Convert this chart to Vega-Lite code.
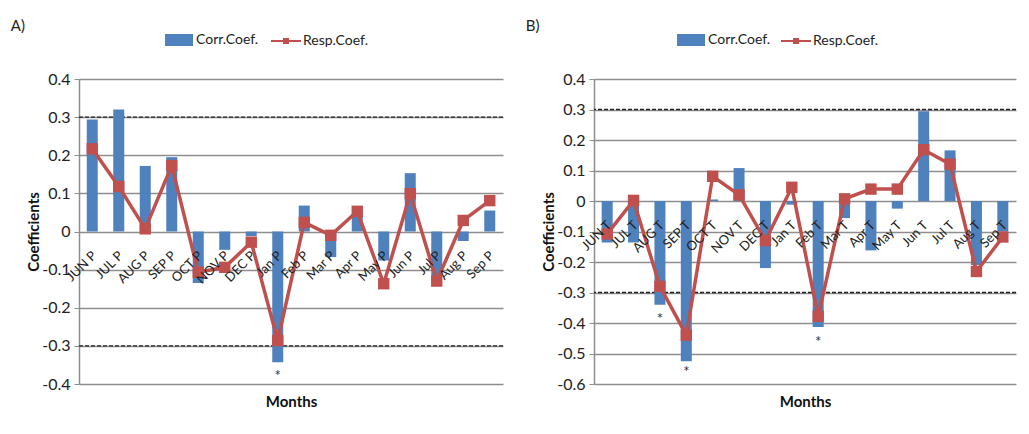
{
  "$schema": "https://vega.github.io/schema/vega-lite/v6.json",
  "background": "white",
  "padding": {"left": 10, "top": 19, "right": 3, "bottom": 5},
  "config": {
    "font": "Lato",
    "view": {"stroke": null},
    "axisY": {"tickCount": 12, "grid": true, "gridColor": "#8e8e8e", "gridWidth": 1.5, "domainColor": "#8e8e8e", "domainWidth": 1.5, "tickColor": "#8e8e8e", "tickSize": 5, "labelFontSize": 16, "labelColor": "#222", "labelPadding": 4, "titleFontSize": 15, "titleFontWeight": "bold", "titleColor": "#111", "titlePadding": 0},
    "axisX": {"labels": false, "ticks": false, "domain": false, "grid": false, "titleFontSize": 15, "titleFontWeight": "bold", "titleColor": "#111", "titlePadding": 10},
    "title": {"anchor": "start", "frame": "bounds", "fontSize": 15, "fontWeight": "normal", "color": "#222", "dx": -16, "offset": -8}
  },
  "datasets": {
    "A": [
      {"month": "JUN P", "corr": 0.294, "resp": 0.217},
      {"month": "JUL P", "corr": 0.32, "resp": 0.118},
      {"month": "AUG P", "corr": 0.172, "resp": 0.007},
      {"month": "SEP P", "corr": 0.195, "resp": 0.173},
      {"month": "OCT P", "corr": -0.135, "resp": -0.107},
      {"month": "NOV P", "corr": -0.048, "resp": -0.094},
      {"month": "DEC P", "corr": -0.012, "resp": -0.028},
      {"month": "Jan P", "corr": -0.343, "resp": -0.286},
      {"month": "Feb P", "corr": 0.068, "resp": 0.024},
      {"month": "Mar P", "corr": -0.067, "resp": -0.01},
      {"month": "Apr P", "corr": 0.045, "resp": 0.053},
      {"month": "May P", "corr": -0.076, "resp": -0.137},
      {"month": "Jun P", "corr": 0.153, "resp": 0.099},
      {"month": "Jul P", "corr": -0.12, "resp": -0.13},
      {"month": "Aug P", "corr": -0.025, "resp": 0.029},
      {"month": "Sep P", "corr": 0.055, "resp": 0.081}
    ],
    "B": [
      {"month": "JUN T", "corr": -0.136, "resp": -0.108},
      {"month": "JUL T", "corr": -0.136, "resp": 0.002},
      {"month": "AUG T", "corr": -0.34, "resp": -0.28},
      {"month": "SEP T", "corr": -0.525, "resp": -0.44},
      {"month": "OCT T", "corr": 0.005, "resp": 0.081},
      {"month": "NOV T", "corr": 0.108, "resp": 0.02},
      {"month": "DEC T", "corr": -0.22, "resp": -0.13},
      {"month": "Jan T", "corr": -0.012, "resp": 0.045},
      {"month": "Feb T", "corr": -0.413, "resp": -0.378},
      {"month": "Mar T", "corr": -0.056, "resp": 0.007},
      {"month": "Apr T", "corr": -0.162, "resp": 0.039},
      {"month": "May T", "corr": -0.025, "resp": 0.039},
      {"month": "Jun T", "corr": 0.294, "resp": 0.168},
      {"month": "Jul T", "corr": 0.166, "resp": 0.121},
      {"month": "Aug T", "corr": -0.21, "resp": -0.231},
      {"month": "Sep T", "corr": -0.1, "resp": -0.118}
    ],
    "starsA": [{"month": "Jan P", "pos": -0.372}],
    "starsB": [
      {"month": "AUG T", "pos": -0.378},
      {"month": "SEP T", "pos": -0.55},
      {"month": "Feb T", "pos": -0.452}
    ],
    "refs": [{"ref": 0.3}, {"ref": -0.3}]
  },
  "resolve": {
    "scale": {"x": "independent", "y": "independent", "fill": "independent", "color": "independent"},
    "legend": {"fill": "independent", "color": "independent"}
  },
  "spacing": 21,
  "hconcat": [
    {
      "width": 424,
      "height": 305,
      "title": {"text": "A)"},
      "layer": [
        {
          "data": {"name": "refs"},
          "mark": {"type": "rule", "strokeDash": [4, 2], "color": "#222", "strokeWidth": 1.3},
          "encoding": {
            "y": {"field": "ref", "type": "quantitative",
              "scale": {"domain": [-0.4, 0.4], "nice": false, "zero": false},
              "axis": {"values": [-0.4, -0.3, -0.2, -0.1, 0, 0.1, 0.2, 0.3, 0.4], "tickCount": 12, "labelExpr": "replace(format(datum.value, '.1~f'), '\u2212', '-')", "title": "Coefficients"}}
          }
        },
        {
          "data": {"name": "A"},
          "mark": {"type": "bar", "width": 11},
          "encoding": {
            "x": {"field": "month", "type": "nominal", "sort": null,
              "scale": {"domain": ["JUN P", "JUL P", "AUG P", "SEP P", "OCT P", "NOV P", "DEC P", "Jan P", "Feb P", "Mar P", "Apr P", "May P", "Jun P", "Jul P", "Aug P", "Sep P"], "paddingInner": 0, "paddingOuter": 0},
              "axis": {"title": "Months"}},
            "y": {"field": "corr", "type": "quantitative"},
            "fill": {"datum": "Corr.Coef.", "scale": {"range": ["#4f81bd"]},
              "legend": {"orient": "none", "legendX": 86, "legendY": -53, "title": null, "symbolType": "M-1,-0.43H1V0.43H-1Z", "symbolSize": 784, "symbolStrokeWidth": 0, "labelFontSize": 14, "labelColor": "#222", "labelOffset": 3}}
          }
        },
        {
          "data": {"name": "A"},
          "mark": {"type": "line", "color": "#c0504d", "strokeWidth": 3.5},
          "encoding": {
            "x": {"field": "month", "type": "nominal", "sort": null},
            "y": {"field": "resp", "type": "quantitative"}
          }
        },
        {
          "data": {"name": "A"},
          "mark": {"type": "point", "shape": "square", "filled": true, "size": 130, "opacity": 1},
          "encoding": {
            "x": {"field": "month", "type": "nominal", "sort": null},
            "y": {"field": "resp", "type": "quantitative"},
            "color": {"datum": "Resp.Coef.", "scale": {"range": ["#c0504d"]},
              "legend": {"orient": "none", "legendX": 192, "legendY": -53, "title": null, "symbolType": "M-1,-0.06H1V0.06H-1Z M-0.2,-0.2H0.2V0.2H-0.2Z", "symbolSize": 900, "symbolStrokeWidth": 0, "labelFontSize": 14, "labelColor": "#222", "labelOffset": 2}}
          }
        },
        {
          "data": {"name": "A"},
          "mark": {"type": "text", "angle": -45, "align": "right", "baseline": "top", "yOffset": 18, "xOffset": -2, "fontSize": 13, "color": "#222"},
          "encoding": {
            "x": {"field": "month", "type": "nominal", "sort": null},
            "y": {"datum": 0},
            "text": {"field": "month"}
          }
        },
        {
          "data": {"name": "starsA"},
          "mark": {"type": "text", "text": "*", "fontSize": 15, "color": "#333", "baseline": "middle", "dy": 3},
          "encoding": {
            "x": {"field": "month", "type": "nominal", "sort": null},
            "y": {"field": "pos", "type": "quantitative"}
          }
        }
      ]
    },
    {
      "width": 422,
      "height": 305,
      "title": {"text": "B)"},
      "layer": [
        {
          "data": {"name": "refs"},
          "mark": {"type": "rule", "strokeDash": [4, 2], "color": "#222", "strokeWidth": 1.3},
          "encoding": {
            "y": {"field": "ref", "type": "quantitative",
              "scale": {"domain": [-0.6, 0.4], "nice": false, "zero": false},
              "axis": {"values": [-0.6, -0.5, -0.4, -0.3, -0.2, -0.1, 0, 0.1, 0.2, 0.3, 0.4], "tickCount": 12, "labelExpr": "replace(format(datum.value, '.1~f'), '\u2212', '-')", "title": "Coefficients"}}
          }
        },
        {
          "data": {"name": "B"},
          "mark": {"type": "bar", "width": 11},
          "encoding": {
            "x": {"field": "month", "type": "nominal", "sort": null,
              "scale": {"domain": ["JUN T", "JUL T", "AUG T", "SEP T", "OCT T", "NOV T", "DEC T", "Jan T", "Feb T", "Mar T", "Apr T", "May T", "Jun T", "Jul T", "Aug T", "Sep T"], "paddingInner": 0, "paddingOuter": 0},
              "axis": {"title": "Months"}},
            "y": {"field": "corr", "type": "quantitative"},
            "fill": {"datum": "Corr.Coef.", "scale": {"range": ["#4f81bd"]},
              "legend": {"orient": "none", "legendX": 83, "legendY": -53, "title": null, "symbolType": "M-1,-0.43H1V0.43H-1Z", "symbolSize": 784, "symbolStrokeWidth": 0, "labelFontSize": 14, "labelColor": "#222", "labelOffset": 3}}
          }
        },
        {
          "data": {"name": "B"},
          "mark": {"type": "line", "color": "#c0504d", "strokeWidth": 3.5},
          "encoding": {
            "x": {"field": "month", "type": "nominal", "sort": null},
            "y": {"field": "resp", "type": "quantitative"}
          }
        },
        {
          "data": {"name": "B"},
          "mark": {"type": "point", "shape": "square", "filled": true, "size": 130, "opacity": 1},
          "encoding": {
            "x": {"field": "month", "type": "nominal", "sort": null},
            "y": {"field": "resp", "type": "quantitative"},
            "color": {"datum": "Resp.Coef.", "scale": {"range": ["#c0504d"]},
              "legend": {"orient": "none", "legendX": 187, "legendY": -53, "title": null, "symbolType": "M-1,-0.06H1V0.06H-1Z M-0.2,-0.2H0.2V0.2H-0.2Z", "symbolSize": 900, "symbolStrokeWidth": 0, "labelFontSize": 14, "labelColor": "#222", "labelOffset": 2}}
          }
        },
        {
          "data": {"name": "B"},
          "mark": {"type": "text", "angle": -45, "align": "right", "baseline": "top", "yOffset": 18, "xOffset": -2, "fontSize": 13, "color": "#222"},
          "encoding": {
            "x": {"field": "month", "type": "nominal", "sort": null},
            "y": {"datum": 0},
            "text": {"field": "month"}
          }
        },
        {
          "data": {"name": "starsB"},
          "mark": {"type": "text", "text": "*", "fontSize": 15, "color": "#333", "baseline": "middle", "dy": 3},
          "encoding": {
            "x": {"field": "month", "type": "nominal", "sort": null},
            "y": {"field": "pos", "type": "quantitative"}
          }
        }
      ]
    }
  ]
}
